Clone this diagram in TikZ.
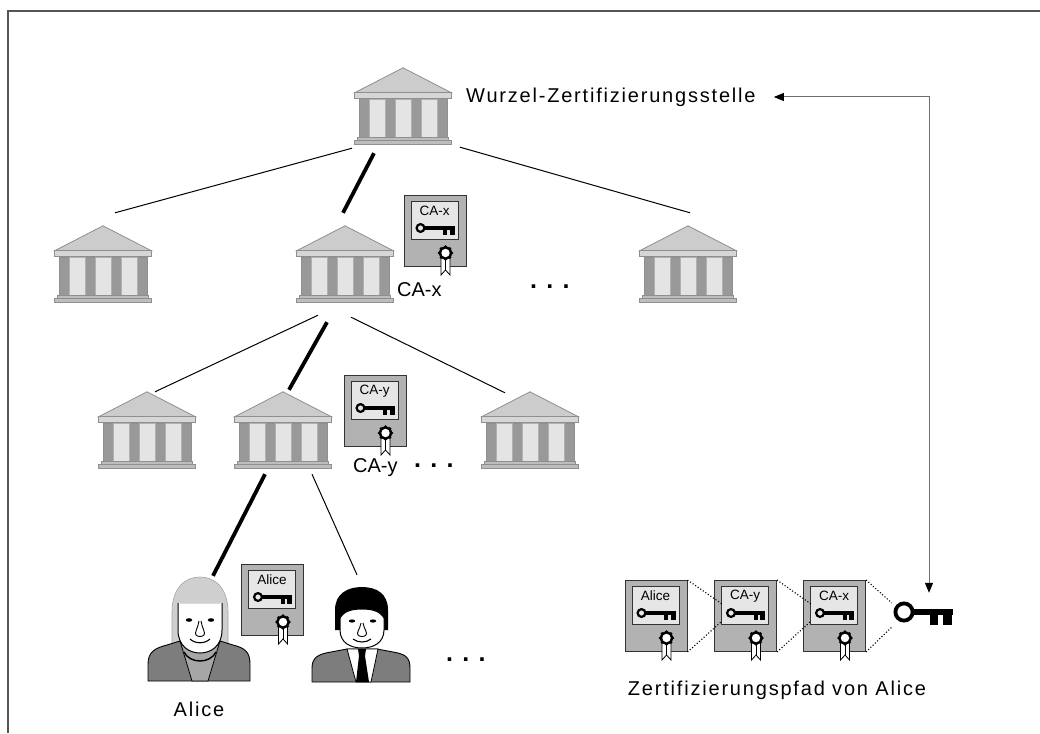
\documentclass[tikz,border=0pt]{standalone}
\usepackage{fontspec}
\setmainfont{Liberation Sans}
\newfontfamily\widefont{Liberation Sans}[LetterSpace=9]
\usetikzlibrary{arrows.meta,calc}

\definecolor{roofgray}{HTML}{CCCCCC}
\definecolor{bldline}{HTML}{8F8F8F}
\definecolor{bandgray}{HTML}{D6D6D6}
\definecolor{pillargray}{HTML}{999999}
\definecolor{panelgray}{HTML}{E4E4E4}
\definecolor{basegray}{HTML}{BDBDBD}
\definecolor{certgray}{HTML}{B2B2B2}
\definecolor{certline}{HTML}{333333}
\definecolor{certpanel}{HTML}{E6E6E6}
\definecolor{hairgray}{HTML}{CFCFCF}
\definecolor{suitgray}{HTML}{7D7D7D}
\definecolor{shirtgray}{HTML}{A6A6A6}
\definecolor{linkgray}{HTML}{6E6E6E}
\definecolor{framegray}{HTML}{555555}

\tikzset{
  bldg/.style={minimum width=97pt, minimum height=77pt, inner sep=0pt},
  cert/.style={draw=certline, fill=certgray, line width=1pt, minimum width=62pt, minimum height=71pt, inner sep=0pt},
  person/.style={minimum width=104pt, minimum height=112pt, inner sep=0pt},
  thinedge/.style={line width=1pt},
  thickedge/.style={line width=3.8pt},
  trace/.style={dotted, line width=1.1pt},
  link/.style={draw=linkgray, line width=1pt, {Triangle[length=10pt,width=8pt,color=black]}-{Triangle[length=10pt,width=8pt,color=black]}},
  lbl/.style={font=\widefont\fontsize{20}{24}\selectfont, inner sep=0pt},
  calbl/.style={font=\fontsize{20}{24}\selectfont, inner sep=0pt},
  certtxt/.style={font=\fontsize{13.5}{15}\selectfont, inner sep=0pt},
  dots/.style={font=\bfseries\fontsize{25}{28}\selectfont, inner sep=0pt},
}

% temple-like building, drawn below the top of node #1
\newcommand\drawbuilding[1]{%
  \begin{scope}[shift={(#1.north)}]
    \filldraw[fill=roofgray, draw=bldline, line width=0.8pt] (0,0) -- (48.5,25) -- (-48.5,25) -- cycle;
    \filldraw[fill=bandgray, draw=bldline, line width=0.8pt] (-48.5,25) rectangle (48.5,31);
    \filldraw[fill=pillargray, draw=bldline, line width=0.6pt] (-44,31) rectangle (44,70);
    \foreach \px in {-34,-8,18}
      \filldraw[fill=panelgray, draw=bldline!70, line width=0.5pt] (\px,31) rectangle ++(16,39);
    \filldraw[fill=basegray, draw=bldline, line width=0.7pt] (-45.5,70) rectangle (45.5,73);
    \filldraw[fill=basegray, draw=bldline, line width=0.7pt] (-48.5,73) rectangle (48.5,77);
  \end{scope}}

% small key inside a certificate
\newcommand\certkey{%
  \draw[line width=2.2pt] (17,33) circle[radius=3.9pt];
  \fill (21,31.4) rectangle (51,34.8);
  \fill (39.5,34) rectangle (43.5,39.8);
  \fill (46,34) rectangle (51,39.8);}

% certificate contents: panel, owner, key, seal with ribbon
\newcommand\drawcert[2]{%
  \begin{scope}[shift={(#1.north west)}]
    \filldraw[fill=certpanel, draw=certline, line width=0.9pt] (7.5,6) rectangle (54.5,44);
    \node[certtxt] at (31,16) {#2};
    \certkey
    \filldraw[fill=white, draw=black, line width=0.8pt] (37.5,60) -- (37.5,80) -- (42,75) -- (46.5,80) -- (46.5,60) -- cycle;
    \draw[line width=0.6pt] (42,65) -- (42,75);
    \fill (42,58) circle[radius=6.6pt];
    \foreach \a in {0,45,...,315}
      \fill (42,58) ++(\a:6.2pt) circle[radius=1.7pt];
    \fill[white] (42,58) circle[radius=4.2pt];
  \end{scope}}

\begin{document}
\begin{tikzpicture}[x=1pt, y=-1pt]
  \useasboundingbox (0,0) rectangle (1040,733);
  \fill[white] (0,0) rectangle (1040,733);
  \draw[framegray, line width=1.5pt] (8,733) -- (8,11) -- (1040,11);

  % hierarchy of certification authorities
  \node[bldg] (root) at (403,106.5) {};
  \node[bldg] (a1) at (103,264.5) {};
  \node[bldg] (a2) at (345,264.5) {};
  \node[bldg] (a3) at (688,264.5) {};
  \node[bldg] (b1) at (147,430.5) {};
  \node[bldg] (b2) at (283,430.5) {};
  \node[bldg] (b3) at (530,430.5) {};
  \node[person] (alice) at (200,630) {};
  \node[person] (bob) at (362,630) {};

  % tree edges, the certification path in bold
  \draw[thinedge] ($(root.south)+(-51,3)$) -- ($(a1.north)+(12,-13)$);
  \draw[thickedge] ($(root.south)+(-29,8)$) -- ($(a2.north)+(-2,-13)$);
  \draw[thinedge] ($(root.south)+(57,2)$) -- ($(a3.north)+(2,-13)$);
  \draw[thinedge] ($(a2.south)+(-27,12)$) -- ($(b1.north)+(8,0)$);
  \draw[thickedge] ($(a2.south)+(-18,19)$) -- ($(b2.north)+(6,-2)$);
  \draw[thinedge] ($(a2.south)+(6,14)$) -- ($(b3.north)+(-25,1)$);
  \draw[thickedge] ($(b2.south)+(-18,5)$) -- ($(alice.north)+(13,2)$);
  \draw[thinedge] ($(b2.south)+(29,5)$) -- ($(bob.north)+(-5,1)$);

  \foreach \b in {root,a1,a2,a3,b1,b2,b3} {\drawbuilding{\b}}

  % certificates in the tree
  \node[cert] (certx) at (435,231) {};
  \drawcert{certx}{CA-x}
  \node[cert] (certy) at (375,411) {};
  \drawcert{certy}{CA-y}
  \node[cert] (certa) at (272.5,600) {};
  \drawcert{certa}{Alice}

  % Alice
  \begin{scope}[shift={(alice.center)}]
    \filldraw[fill=hairgray, draw=hairgray!80!black, line width=0.6pt] (-28,26) -- (-28,-18) .. controls (-28,-42) and (-15,-53) .. (0,-53) .. controls (15,-53) and (28,-42) .. (28,-18) -- (28,26) -- cycle;
    \filldraw[fill=suitgray, draw=black, line width=0.9pt] (-52,51) -- (-52,34) .. controls (-52,22) and (-45,18) .. (-33,15) -- (-20,11) -- (20,11) -- (33,15) .. controls (45,18) and (50,22) .. (50,34) -- (50,51) -- cycle;
    \filldraw[fill=shirtgray, draw=black, line width=0.8pt] (-20,11) -- (-8,51) -- (8,51) -- (20,11) -- cycle;
    \fill[white] (-22,-27) -- (-22,0) .. controls (-22,16) and (-11,23) .. (0,23) .. controls (11,23) and (22,16) .. (22,0) -- (22,-27) -- cycle;
    \draw[line width=1pt] (-22,-27) -- (-22,0) .. controls (-22,16) and (-11,23) .. (0,23) .. controls (11,23) and (22,16) .. (22,0) -- (22,-27);
    \draw[black!15, line width=0.6pt] (-20,-27) -- (20,-27);
    \draw[line width=1.4pt] (-16,22) .. controls (-10,34) and (10,34) .. (16,22);
    \fill (-11,-10) ellipse[x radius=3.2pt, y radius=1.8pt];
    \fill (11,-10) ellipse[x radius=3.2pt, y radius=1.8pt];
    \draw[line width=0.9pt] (-1,-9) .. controls (-2,-2) and (-6,3) .. (-4,5) .. controls (-2,7) and (2,7) .. (4,5) .. controls (6,3) and (2,-2) .. (1,-9);
    \draw[line width=1.1pt] (-10,9) .. controls (-5,14) and (5,14) .. (10,9);
  \end{scope}

  % second subscriber
  \begin{scope}[shift={(bob.center)}]
    \filldraw[fill=suitgray, draw=black, line width=0.9pt] (-50,52) -- (-50,38) .. controls (-50,27) and (-43,24) .. (-31,22) -- (-15,19) -- (15,19) -- (31,22) .. controls (43,24) and (48,27) .. (48,38) -- (48,52) -- cycle;
    \filldraw[fill=white, draw=black, line width=0.8pt] (-15,19) -- (-6,52) -- (9,52) -- (16,19) -- cycle;
    \fill (-4,19) -- (4,19) -- (3,26) -- (7,52) -- (-6,52) -- (-3,26) -- cycle;
    \fill (-27,0) -- (-27,-20) .. controls (-27,-36) and (-15,-43) .. (0,-43) .. controls (15,-43) and (26,-36) .. (26,-20) -- (26,0) -- cycle;
    \filldraw[fill=white, draw=black, line width=1pt] (-22,-12) -- (-22,0) .. controls (-22,13) and (-11,18) .. (0,18) .. controls (11,18) and (22,13) .. (22,0) -- (22,-12) .. controls (18,-19) and (10,-21) .. (0,-21) .. controls (-10,-21) and (-18,-19) .. (-22,-12) -- cycle;
    \fill (-10,-9) ellipse[x radius=3.2pt, y radius=1.6pt];
    \fill (11,-9) ellipse[x radius=3.2pt, y radius=1.6pt];
    \draw[line width=0.9pt] (-1,-7) .. controls (-2,-1) and (-6,3) .. (-4,5) .. controls (-2,7) and (2,7) .. (4,5) .. controls (6,3) and (2,-1) .. (1,-7);
    \draw[line width=1.1pt] (-9,9) .. controls (-4,13) and (4,13) .. (9,9);
  \end{scope}

  % labels
  \node[lbl, anchor=west] (wurzel) at (466,97) {Wurzel-Zertifizierungsstelle};
  \node[calbl, anchor=west] (cax) at (397,290) {CA-x};
  \node[calbl, anchor=west] (cay) at (353,468) {CA-y};
  \node[lbl] (alicename) at (199,709) {Alice};
  \node[lbl] (pathname) at (777,690) {Zertifizierungspfad von Alice};
  \node[dots, anchor=base west] (dots1) at (530,288) {. . .};
  \node[dots, anchor=base west] (dots2) at (414,467) {. . .};
  \node[dots, anchor=base west] (dots3) at (446,661) {. . .};

  % certification path
  \node[cert] (p1) at (656,616) {};
  \drawcert{p1}{Alice}
  \node[cert] (p2) at (745.5,616) {};
  \drawcert{p2}{CA-y}
  \node[cert] (p3) at (834.5,616) {};
  \drawcert{p3}{CA-x}

  % root key
  \node[minimum width=64pt, minimum height=26pt, inner sep=0pt] (bigkey) at (922,612) {};
  \begin{scope}[shift={(bigkey.center)}]
    \draw[line width=3.8pt] (-18,0) circle[radius=8.6pt];
    \fill (-9.5,-3.2) rectangle (31,3.2);
    \fill (8,3) rectangle (15.5,12.5);
    \fill (21,3) rectangle (29.5,12.5);
  \end{scope}

  \draw[trace] (p1.north east) -- ($(p2.north west)+(8,24)$);
  \draw[trace] (p1.south east) -- ($(p2.north west)+(7,42)$);
  \draw[trace] (p2.north east) -- ($(p3.north west)+(8,24)$);
  \draw[trace] (p2.south east) -- ($(p3.north west)+(7,42)$);
  \draw[trace] (p3.north east) -- ($(bigkey.west)+(2,-9)$);
  \draw[trace] (p3.south east) -- ($(bigkey.west)+(2,15)$);

  % trust anchor reference
  \coordinate (corner) at (929,97);
  \draw[link] ($(wurzel.east)+(18,0)$) -- (corner) -- ($(bigkey.north)+(7,-6)$);
\end{tikzpicture}
\end{document}
